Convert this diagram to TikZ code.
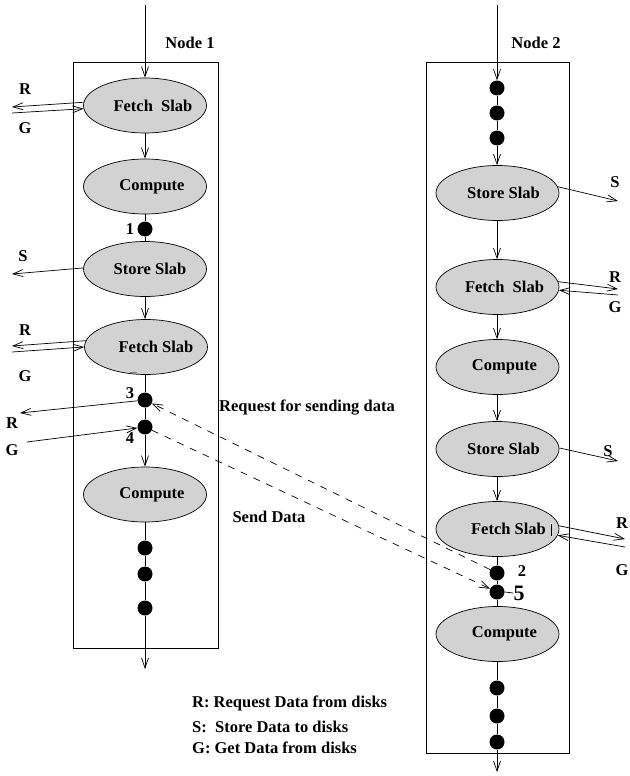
\documentclass[tikz,border=0pt]{standalone}
\usepackage{fontspec}
\setmainfont{Liberation Serif}
\usetikzlibrary{shapes.geometric,arrows.meta}
\begin{document}
\begin{tikzpicture}[x=1pt,y=-1pt,
  every node/.style={font=\fontsize{16.5}{19}\selectfont\bfseries},
  proc/.style={ellipse,draw=black,line width=0.7pt,fill=gray!35,minimum width=123pt,minimum height=55pt,inner sep=0pt,
    label={[inner sep=0pt,xshift=#1]center:\proctext}},
  proc/.default=7pt,
  blob/.style={circle,fill=black,minimum size=15pt,inner sep=0pt},
  lbl/.style={inner sep=0pt},
  conn/.style={line width=0.7pt},
  >={Straight Barb[length=10pt,width=7pt]}]
\useasboundingbox (0,0) rectangle (629,776);
% boxes
\draw[line width=0.7pt] (73,62) rectangle (218,648);
\draw[line width=0.7pt] (426,62) rectangle (569,753);
\node[lbl] (n1) at (190,43) {Node 1};
\node[lbl] (n2) at (536,43) {Node 2};
% ---------- Node 1 ----------
\coordinate (top1) at (145,5);
\def\proctext{Fetch\ \ Slab}\node[proc=8pt] (f1) at (145,105.5) {};
\def\proctext{Compute}\node[proc=7pt] (c1) at (145,186.5) {};
\node[blob] (d1) at (145,229) {};
\def\proctext{Store Slab}\node[proc=5pt] (s1) at (145,269) {};
\def\proctext{Fetch Slab}\node[proc=10pt] (f2) at (146,347) {};
\node[blob] (d3) at (145,400) {};
\node[blob] (d4) at (145,427) {};
\def\proctext{Compute}\node[proc=7pt] (c2) at (145,494.5) {};
\node[blob] (e1) at (145,548) {};
\node[blob] (e2) at (145,574) {};
\node[blob] (e3) at (145,608) {};
\coordinate (bot1) at (145,669);
\draw[conn,->] (top1) -- (f1.north);
\draw[conn,->] (f1.south) -- (c1.north);
\draw[conn] (c1.south) -- (d1);
\draw[conn] (d1) -- (s1.north);
\draw[conn,->] (s1.south) -- (f2.north -| s1.south);
\draw[conn] (f2.south -| d3) -- (d3);
\draw[conn] (d3) -- (d4);
\draw[conn,->] (d4) -- (c2.north);
\draw[conn] (c2.south) -- (e1) -- (e2) -- (e3);
\draw[conn,->] (e3) -- (bot1);
\draw[gray,line width=0.7pt] (130,372) -- (137,372);
\node[lbl] (l1) at (130,229) {1};
\node[lbl] (l3) at (130,393) {3};
\node[lbl] (l4) at (130,438) {4};
% side arrows node 1
\coordinate (r1) at (12,107);
\coordinate (g1) at (12,113);
\draw[conn,->] (f1.177) -- (r1);
\draw[conn,->] (g1) -- (f1.183);
\node[lbl] (lr1) at (25,89) {R};
\node[lbl] (lg1) at (25,128) {G};
\coordinate (sa1) at (12,274);
\draw[conn,->] (s1.179) -- (sa1);
\node[lbl] (ls1) at (23,256) {S};
\coordinate (r2) at (12,346);
\coordinate (g2) at (12,352);
\draw[conn,->] (f2.174) -- (r2);
\draw[conn,->] (g2) -- (f2.180);
\node[lbl] (lr2) at (25,330) {R};
\node[lbl] (lg2) at (25,376) {G};
\coordinate (r3) at (20,413);
\coordinate (g3) at (27,442);
\draw[conn,->] (d3) -- (r3);
\draw[conn,->] (g3) -- (d4);
\node[lbl] (lr3) at (12,423) {R};
\node[lbl] (lg3) at (12,450) {G};
% ---------- Node 2 ----------
\coordinate (top2) at (497,5);
\node[blob] (k1) at (497,88) {};
\node[blob] (k2) at (497,113) {};
\node[blob] (k3) at (497,138) {};
\def\proctext{Store Slab}\node[proc=6pt] (s3) at (497.5,193) {};
\def\proctext{Fetch\ \ Slab}\node[proc=7pt] (f3) at (497.5,287) {};
\def\proctext{Compute}\node[proc=7pt] (c3) at (497.5,367) {};
\def\proctext{Store Slab}\node[proc=6pt] (s4) at (497.5,449) {};
\def\proctext{Fetch Slab}\node[proc=11pt] (f4) at (497.5,529) {};
\node[blob] (d2) at (497,573) {};
\node[blob] (d5) at (497,592) {};
\def\proctext{Compute}\node[proc=7pt] (c4) at (497.5,634) {};
\node[blob] (h1) at (497,688) {};
\node[blob] (h2) at (497,716) {};
\node[blob] (h3) at (497,742) {};
\coordinate (bot2) at (497,772);
\draw[conn,->] (top2) -- (k1);
\draw[conn] (k1) -- (k2) -- (k3);
\draw[conn,->] (k3) -- (s3.north -| k3);
\draw[conn,->] (s3.south -| k3) -- (f3.north -| k3);
\draw[conn,->] (f3.south -| k3) -- (c3.north -| k3);
\draw[conn,->] (c3.south -| k3) -- (s4.north -| k3);
\draw[conn,->] (s4.south -| k3) -- (f4.north -| k3);
\draw[conn] (f4.south -| k3) -- (d2);
\draw[conn] (d2) -- (d5);
\draw[conn] (d5) -- (c4.north -| k3);
\draw[conn] (c4.south -| k3) -- (h1) -- (h2) -- (h3);
\draw[conn,->] (h3) -- (bot2);
\draw[conn] (551,524) -- (551,536);
\node[lbl] (l2) at (522,571) {2};
\node[lbl,font=\fontsize{22}{24}\selectfont\bfseries] (l5) at (519,593) {5};
\draw[conn] (d5.east) -- (l5.west);
% side arrows node 2
\coordinate (sa3) at (618,201);
\draw[conn,->] (s3.6) -- (sa3);
\node[lbl] (ls3) at (615,182) {S};
\coordinate (r4) at (618,289);
\coordinate (g4) at (618,295);
\draw[conn,->] (f3.5) -- (r4);
\draw[conn,->] (g4) -- (f3.357);
\node[lbl] (lr4) at (615,277) {R};
\node[lbl] (lg4) at (615,307) {G};
\coordinate (sa4) at (618,461);
\draw[conn,->] (s4.1) -- (sa4);
\node[lbl] (ls4) at (608,451) {S};
\coordinate (r5) at (625,539);
\coordinate (g5) at (625,547);
\draw[conn,->] (f4.3) -- (r5);
\draw[conn,->] (g5) -- (f4.354);
\node[lbl] (lr5) at (622,523) {R};
\node[lbl] (lg5) at (622,570) {G};
% dashed messages
\draw[conn,dash pattern=on 7pt off 7pt,->] (d2) -- (d3);
\draw[conn,dash pattern=on 7pt off 7pt,->] (d4) -- (d5);
\node[lbl] (req) at (307,408) {Request for sending data};
\node[lbl] (snd) at (269,517) {Send Data};
% legend
\node[lbl,anchor=west] (lega) at (192,703) {R: Request Data from disks};
\node[lbl,anchor=west] (legb) at (192,727) {S:\ \ Store Data to disks};
\node[lbl,anchor=west] (legc) at (192,748) {G: Get Data from disks};
\end{tikzpicture}
\end{document}
